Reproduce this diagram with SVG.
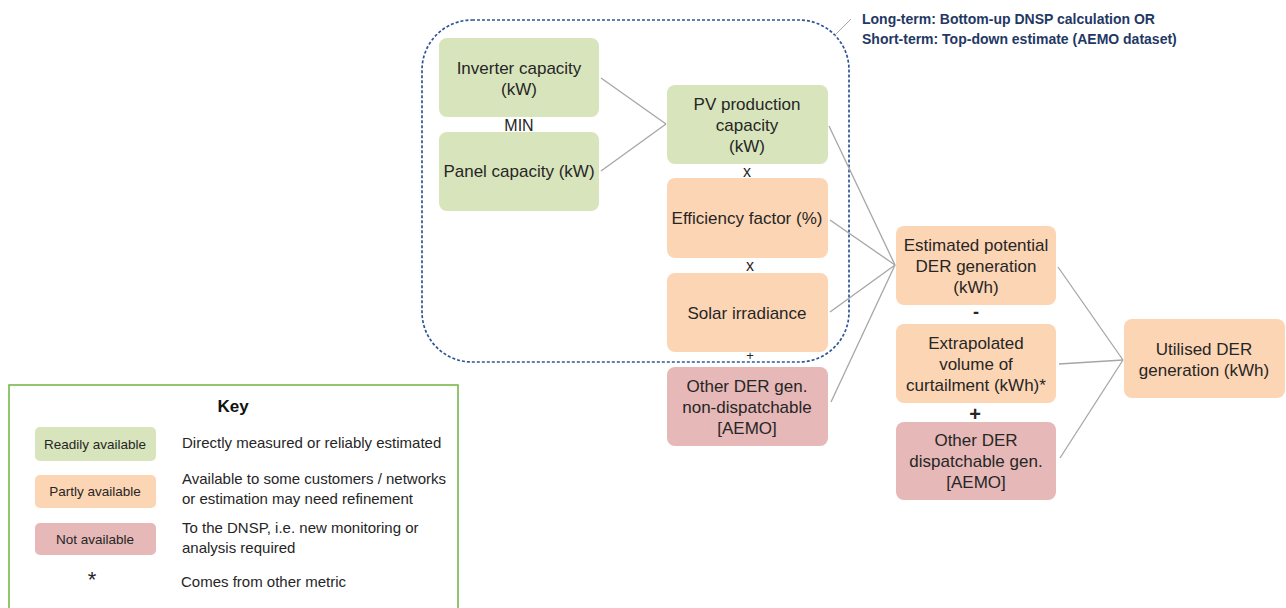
<svg xmlns="http://www.w3.org/2000/svg" width="1286" height="608" viewBox="0 0 1286 608">
  <style>
    text { font-family: "Liberation Sans", Arial, sans-serif; fill: #262626; }
    .node text { font-size: 17px; text-anchor: middle; }
    .green { fill: #d8e4bc; }
    .orange { fill: #fcd5b4; }
    .red { fill: #e6b8b7; }
    .op { font-size: 16px; text-anchor: middle; }
    .conn line { stroke: #a6a6a6; stroke-width: 1.3; }
    .note { font-size: 14px; font-weight: bold; fill: #1f3864; }
    .key-desc { font-size: 15px; }
    .key-swatch { font-size: 13.5px; text-anchor: middle; }
  </style>

  <rect width="1286" height="608" fill="#ffffff"/>

  <!-- scope boundary of the bottom-up calculation -->
  <rect id="scope" x="422" y="20" width="427" height="342" rx="50" ry="50" fill="none" stroke="#2f5597" stroke-width="1.7" stroke-dasharray="3 2"/>
  <line x1="834" y1="36" x2="851" y2="19" stroke="#a6a6a6" stroke-width="1"/>
  <text class="note" x="862" y="24">Long-term: Bottom-up DNSP calculation OR</text>
  <text class="note" x="862" y="44">Short-term: Top-down estimate (AEMO dataset)</text>

  <!-- connectors -->
  <g id="connectors" class="conn">
    <line x1="601" y1="78" x2="666" y2="124"/>
    <line x1="601" y1="171" x2="666" y2="124"/>
    <line x1="829" y1="126" x2="895" y2="265"/>
    <line x1="830" y1="220" x2="895" y2="265"/>
    <line x1="830" y1="312" x2="895" y2="265"/>
    <line x1="831" y1="402" x2="895" y2="265"/>
    <line x1="1058" y1="267" x2="1123" y2="360"/>
    <line x1="1059" y1="364" x2="1123" y2="360"/>
    <line x1="1060" y1="458" x2="1123" y2="360"/>
  </g>

  <!-- nodes -->
  <g id="inverter" class="node">
    <rect class="green" x="439" y="38" width="160" height="79" rx="8"/>
    <text x="519" y="74">Inverter capacity</text>
    <text x="519" y="95">(kW)</text>
  </g>
  <g id="panel" class="node">
    <rect class="green" x="439" y="132" width="160" height="79" rx="8"/>
    <text x="519" y="177">Panel capacity (kW)</text>
  </g>
  <g id="pv-capacity" class="node">
    <rect class="green" x="667" y="85" width="161" height="79" rx="8"/>
    <text x="747" y="110">PV production</text>
    <text x="747" y="131">capacity</text>
    <text x="747" y="152">(kW)</text>
  </g>
  <g id="efficiency" class="node">
    <rect class="orange" x="667" y="178" width="161" height="80" rx="8"/>
    <text x="747" y="224">Efficiency factor (%)</text>
  </g>
  <g id="irradiance" class="node">
    <rect class="orange" x="667" y="273" width="161" height="79" rx="8"/>
    <text x="747" y="319">Solar irradiance</text>
  </g>
  <g id="other-nondispatchable" class="node">
    <rect class="red" x="667" y="367" width="161" height="79" rx="8"/>
    <text x="747" y="392">Other DER gen.</text>
    <text x="747" y="413">non-dispatchable</text>
    <text x="747" y="434">[AEMO]</text>
  </g>
  <g id="estimated-potential" class="node">
    <rect class="orange" x="896" y="226" width="160" height="79" rx="8"/>
    <text x="976" y="251">Estimated potential</text>
    <text x="976" y="272">DER generation</text>
    <text x="976" y="293">(kWh)</text>
  </g>
  <g id="curtailment" class="node">
    <rect class="orange" x="896" y="324" width="160" height="79" rx="8"/>
    <text x="976" y="349">Extrapolated</text>
    <text x="976" y="370">volume of</text>
    <text x="976" y="391">curtailment (kWh)*</text>
  </g>
  <g id="other-dispatchable" class="node">
    <rect class="red" x="896" y="422" width="160" height="78" rx="8"/>
    <text x="976" y="446">Other DER</text>
    <text x="976" y="467">dispatchable gen.</text>
    <text x="976" y="488">[AEMO]</text>
  </g>
  <g id="utilised" class="node">
    <rect class="orange" x="1124" y="319" width="161" height="79" rx="8"/>
    <text x="1204" y="355">Utilised DER</text>
    <text x="1204" y="376">generation (kWh)</text>
  </g>

  <!-- operators between nodes -->
  <g id="operators">
    <text class="op" x="519" y="131">MIN</text>
    <text class="op" x="747" y="177">x</text>
    <text class="op" x="750" y="271">x</text>
    <text class="op" x="750" y="360" style="font-size:13px">+</text>
    <text class="op" x="976" y="318" style="font-weight:bold;font-size:18px">-</text>
    <text class="op" x="975" y="421" style="font-weight:bold;font-size:20px">+</text>
  </g>

  <!-- key -->
  <g id="key">
    <rect x="9" y="385" width="449" height="240" fill="none" stroke="#77b84a" stroke-width="1.6"/>
    <text x="233" y="412" style="font-size:17px;font-weight:bold;text-anchor:middle;fill:#111">Key</text>

    <rect class="green" x="35" y="427" width="121" height="34" rx="5"/>
    <text class="key-swatch" x="95" y="449">Readily available</text>
    <text class="key-desc" x="182" y="448">Directly measured or reliably estimated</text>

    <rect class="orange" x="35" y="475" width="121" height="33" rx="5"/>
    <text class="key-swatch" x="95" y="496">Partly available</text>
    <text class="key-desc" x="182" y="484">Available to some customers / networks</text>
    <text class="key-desc" x="182" y="504">or estimation may need refinement</text>

    <rect class="red" x="35" y="523" width="121" height="32" rx="5"/>
    <text class="key-swatch" x="95" y="544">Not available</text>
    <text class="key-desc" x="182" y="533">To the DNSP, i.e. new monitoring or</text>
    <text class="key-desc" x="182" y="553">analysis required</text>

    <text x="92" y="587" style="font-size:22px;text-anchor:middle">*</text>
    <text class="key-desc" x="181" y="587">Comes from other metric</text>
  </g>
</svg>
